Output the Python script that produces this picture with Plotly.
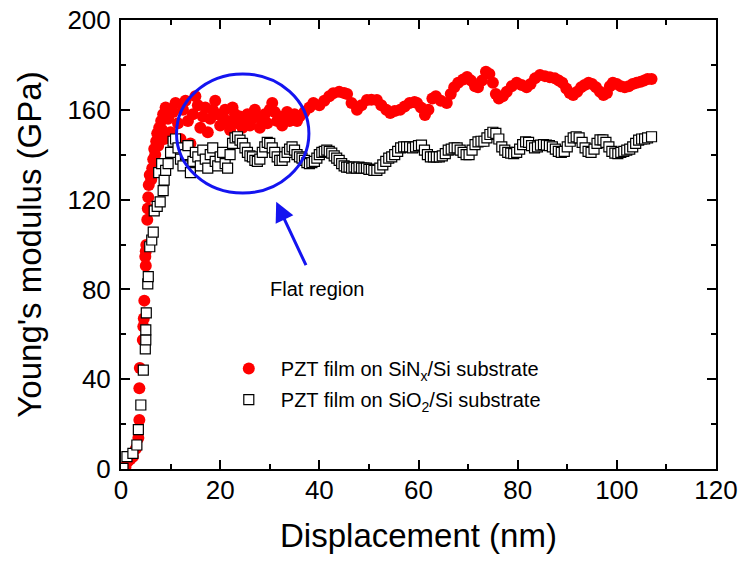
import plotly.graph_objects as go

# ---------------- data ----------------
red_x = [0.4, 0.9, 1.4, 1.9, 2.4, 3.0, 3.5, 3.7, 3.7, 3.8, 4.4, 4.5, 4.6, 4.7, 5.0, 4.9, 5.0, 5.1,
         5.3, 5.4, 5.5, 5.6, 5.8, 6.1, 6.3, 6.5, 6.7, 6.9, 7.1, 7.3, 7.5, 7.7, 7.9, 8.1, 8.3, 8.5, 8.7,
         9.0, 9.5, 10.0, 10.5, 11.0, 11.5, 12.0, 12.5, 13.0, 13.5, 14.0, 14.5, 15.0, 15.5, 16.0, 16.5,
         17.0, 17.5, 18.0, 18.5, 19.0, 19.5, 20.0, 20.5, 21.0, 21.5, 22.0, 22.5, 23.0, 23.5, 24.0, 24.5,
         25.0, 25.5, 26.0, 26.5, 27.0, 27.5, 28.0, 28.5, 29.0, 29.5, 30.0, 30.5, 31.0, 31.5, 32.0, 32.5,
         33.0, 33.5, 34.0, 34.5, 35.0, 35.5,
         36.0, 37.0, 38.0, 38.8, 40.0, 41.0, 42.0, 42.8, 44.0, 45.0, 45.6, 46.5, 47.6, 48.5, 49.6, 50.5,
         51.6, 52.5, 53.5, 54.3, 55.2, 56.3, 57.2, 58.2, 59.2, 59.7, 60.5, 61.3, 62.0, 62.8, 63.5, 64.5,
         65.7, 66.5, 67.2, 68.0, 69.0, 69.8, 70.6, 71.4, 72.0, 72.8, 73.6, 74.3, 75.0, 75.6, 76.2, 77.0,
         77.8, 78.8, 79.8, 80.8, 81.8, 82.6, 83.5, 84.5, 85.5, 86.5, 87.5, 88.3, 89.0, 89.8, 90.5, 91.2,
         92.0, 92.8, 93.5, 94.3, 95.0, 95.8, 96.6, 97.3, 98.0, 98.6, 99.2, 100.0, 100.8, 101.6, 102.4,
         103.2, 104.0, 104.8, 105.5, 106.2, 107.0]
red_y = [0.5, 1.0, 3.5, 4.5, 5.5, 9.0, 13.8, 21.8, 36.0, 45.0, 57.5, 63.5, 67.0, 75.0, 90.5, 94.5, 97.0, 99.8,
         111.0, 116.0, 121.0, 126.5, 131.0, 129.0, 134.0, 138.0, 142.5, 140.0, 146.0, 149.5, 144.0, 152.0, 148.0, 155.0, 151.0, 158.0, 147.0,
         161, 156, 150, 159, 163, 154, 147, 160, 164, 155, 145, 158, 166, 162, 152, 157,
         161, 150, 156, 160, 164, 158, 153, 157, 160, 155, 151, 161, 158, 154, 157, 152,
         155, 158, 153, 156, 160, 157, 152, 155, 158, 154, 160, 163, 159, 155, 157, 153,
         156, 159, 155, 156, 158, 155,
         157, 159, 161, 163, 162, 164, 166, 167.4, 168, 167.5, 167, 163, 160, 162, 164.4, 164.5,
         164.4, 162, 160, 158.6, 159.5, 160, 161.5, 163, 163.5, 163, 161, 157.7, 160, 165, 166, 164,
         163, 167, 170, 172, 173.5, 174.6, 173, 170.5, 170, 173, 177, 176, 172, 167, 165, 166,
         168, 170.5, 172, 171, 170, 171.5, 174, 175.5, 175, 174.5, 174, 173, 172, 169.5, 167.5, 166.6,
         168, 170, 171, 172, 171.5, 170, 168, 166.6, 167.5, 170.5, 172, 171.5, 170.5, 170, 170.5,
         171.5, 172, 172.5, 173, 173.7, 173.7]

black_x = [0.4, 1.2, 2.4, 3.2, 3.5, 4.0, 4.5, 4.9, 5.0, 5.0, 5.1, 5.4, 5.5, 5.8, 6.2, 6.5, 6.7, 7.3,
           7.6, 7.9, 8.2, 8.5, 8.7,
           9.0, 9.5, 10.0, 10.5, 11.0, 11.5, 12.0, 12.5, 13.0, 13.5, 14.0, 14.5, 15.0, 15.5, 16.0, 16.5,
           17.0, 17.5, 18.0, 18.5, 19.0, 19.5, 20.0, 20.5, 21.0, 21.5, 22.0, 22.5, 23.0, 23.5, 24.0, 24.5,
           25.0, 25.5, 26.0, 26.5, 27.0, 27.5, 28.0, 28.5, 29.0, 29.5, 30.0, 30.5, 31.0, 31.5, 32.0, 32.5,
           33.0, 33.5, 34.0, 34.5, 35.0, 35.5, 36.0, 36.5, 37.0, 37.5, 38.0, 38.5, 39.0, 39.5, 40.0, 40.5,
           41.0, 41.5, 42.0, 42.5, 43.0, 43.5, 44.0, 44.5, 45.0, 45.5, 46.0, 46.5, 47.0, 47.5, 48.0, 48.5,
           49.0, 49.5, 50.0, 50.5, 51.0, 51.6, 52.2, 52.8, 53.4, 54.0, 54.6, 55.2, 55.8, 56.4, 57.0, 57.6,
           58.2, 58.8, 59.4, 60.0, 60.6, 61.2, 61.8, 62.4, 63.0, 63.6, 64.2, 64.8, 65.4, 66.0, 66.6, 67.2,
           67.8, 68.4, 69.0, 69.6, 70.2, 70.8, 71.4, 72.0, 72.6, 73.2, 73.8, 74.4, 75.0, 75.6, 76.2, 76.8,
           77.4, 78.0, 78.6, 79.2, 79.8, 80.4, 81.0, 81.6, 82.2, 82.8, 83.4, 84.0, 84.6, 85.2, 85.8, 86.4,
           87.0, 87.6, 88.2, 88.8, 89.4, 90.0, 90.6, 91.2, 91.8, 92.4, 93.0, 93.6, 94.2, 94.8, 95.4, 96.0,
           96.6, 97.2, 97.8, 98.4, 99.0, 99.6, 100.2, 100.8, 101.4, 102.0, 102.6, 103.2, 103.8, 104.4,
           105.0, 105.6, 106.2, 107.0]
black_y = [0.3, 5.5, 7.0, 10.7, 17.5, 28.5, 44.0, 53.5, 57.5, 62.0, 69.5, 82.5, 85.7, 99.0, 102.0, 105.5, 115.0, 117.0,
           132.0, 119.0, 136.0, 124.0, 128.7,
           133, 136, 141, 146, 147, 143, 138, 135, 140, 144, 132, 137, 141, 139, 135, 142,
           138, 134, 140, 143, 137, 135, 139, 141, 136, 134, 140, 145, 147.5, 148, 146.5, 145,
           143, 141, 139.5, 139, 137.5, 137, 138, 141, 143.5, 145.5, 145, 143, 141, 139, 137.5, 137.5,
           139, 141, 142.5, 143.5, 142, 140, 139, 138.5, 137.5, 136.5, 136, 136.5, 137, 138.5, 140, 141,
           141.5, 142, 141.5, 140.7, 139.5, 138.5, 137.5, 136, 135, 134.5, 134.5, 134, 134.5, 134, 134.5, 134,
           134, 134, 133.5, 133.5, 133, 133, 134, 135.5, 137, 138.5, 139, 140, 141.5, 143, 143.5, 143.5,
           143.5, 143, 143.5, 144, 144.3, 142, 140, 139, 139, 139, 139, 139.5, 140.5, 142, 142.5, 143,
           143, 142, 141, 140, 140, 142, 144.5, 145.7, 146, 146, 147.5, 149, 150, 149.5, 147, 143.5,
           142, 141, 140.7, 140.5, 141, 142.5, 144.5, 145.7, 145.5, 144, 143, 143.5, 144.3, 144.5, 144.3, 144,
           143.5, 142.5, 141.5, 141, 141.5, 143.5, 146, 147.5, 148, 147.5, 145.5, 143, 141.5, 141, 142.5, 145,
           146.6, 146.6, 145.5, 143.5, 141.5, 140.7, 140.5, 141, 141.5, 142, 142.5, 143.5, 145, 146.5,
           147, 147, 147.5, 148]

x_ticks = [0, 20, 40, 60, 80, 100, 120]
y_ticks = [0, 40, 80, 120, 160, 200]

# flat-region ellipse (data coords) and arrow
ell_x = [11.2, 37.9]
ell_y = [122.9, 176.0]
arrow_head = (31.3, 119.0)
arrow_tail = (37.45, 90.1)
label_pos = (39.7, 80.2)

FONT = "Liberation Sans, Arial, sans-serif"
BLUE = "#1414f0"

fig = go.Figure()
fig.add_trace(go.Scatter(
    x=red_x, y=red_y, mode="markers",
    name="PZT film on SiN<sub>x</sub>/Si substrate",
    legendgroup="a",
    marker=dict(symbol="circle", size=12, color="#ff0000", line=dict(width=0)),
))
fig.add_trace(go.Scatter(
    x=black_x, y=black_y, mode="markers",
    name="PZT film on SiO<sub>2</sub>/Si substrate",
    legendgroup="b",
    marker=dict(symbol="square", size=10, color="white", line=dict(width=1.2, color="black")),
))

fig.add_shape(type="circle", xref="x", yref="y",
              x0=ell_x[0], x1=ell_x[1], y0=ell_y[0], y1=ell_y[1],
              line=dict(color=BLUE, width=3))

fig.add_annotation(x=arrow_head[0], y=arrow_head[1], ax=arrow_tail[0], ay=arrow_tail[1],
                   xref="x", yref="y", axref="x", ayref="y", text="",
                   showarrow=True, arrowhead=2, arrowsize=1.3, arrowwidth=3,
                   arrowcolor=BLUE, standoff=0, startstandoff=0)
fig.add_annotation(x=label_pos[0], y=label_pos[1], xref="x", yref="y",
                   text="Flat region", showarrow=False,
                   font=dict(family=FONT, size=20, color="black"))

axis_common = dict(
    ticks="inside", ticklen=9, tickwidth=1.5, tickcolor="black",
    showline=True, linewidth=2, linecolor="black", mirror="allticks",
    showgrid=False, zeroline=False, automargin=False,
    ticklabeloverflow="allow",
    tickfont=dict(family=FONT, size=26, color="black"),
)

fig.update_layout(
    width=742, height=563,
    margin=dict(l=121, r=26, t=20, b=94, autoexpand=False),
    paper_bgcolor="white", plot_bgcolor="white",
    font=dict(family=FONT, color="black"),
    xaxis=dict(range=[0, 120], tickvals=x_ticks,
               minor=dict(dtick=10, tick0=0, ticks="inside", ticklen=5, tickwidth=1.5, tickcolor="black"),
               title=dict(text="Displacement (nm)", font=dict(family=FONT, size=33, color="black"), standoff=20),
               ticklabelstandoff=-3,
               **axis_common),
    yaxis=dict(range=[0, 200], tickvals=y_ticks,
               minor=dict(dtick=20, tick0=0, ticks="inside", ticklen=5, tickwidth=1.5, tickcolor="black"),
               title=dict(text="Young's modulus (GPa)", font=dict(family=FONT, size=33, color="black"), standoff=16),
               ticklabelstandoff=3,
               **axis_common),
    showlegend=True,
    legend=dict(x=0.161, y=0.267, xanchor="left", yanchor="top",
                bgcolor="rgba(0,0,0,0)", borderwidth=0,
                font=dict(family=FONT, size=20, color="black"),
                itemwidth=54, tracegroupgap=2, itemsizing="trace"),
)

# remove the default 8px page margin so the 742x563 figure fills the window exactly
fig.write_html("out.html", config={"displayModeBar": False},
               post_script="document.body.style.margin='0';")
